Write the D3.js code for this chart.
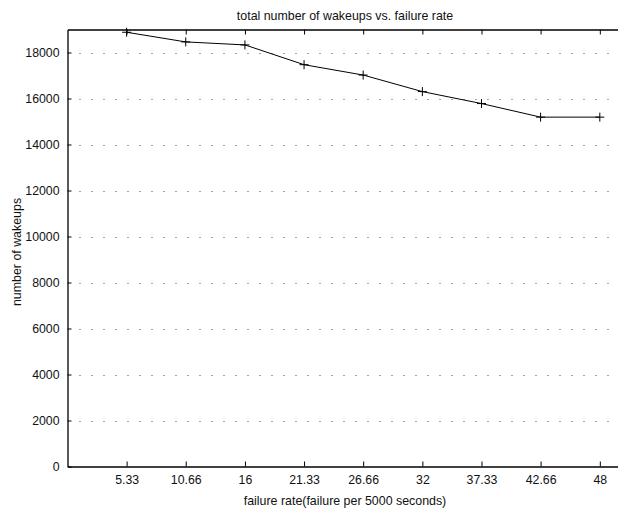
<!DOCTYPE html>
<html>
<head>
  <meta charset="utf-8">
  <script src="https://d3js.org/d3.v7.min.js"></script>
  <style>
    body { margin: 0; background: #fff; }
    svg text { font-family: "Liberation Sans", Arial, sans-serif; fill: #111; }
    .grid line { stroke: #444; stroke-dasharray: 1 11; }
  </style>
</head>
<body>
<script>
  // failure rate (failures per 5000 s) and total wakeups
  var failureRate = [5.33, 10.66, 16, 21.33, 26.66, 32, 37.33, 42.66, 48];
  var wakeups = [18880, 18460, 18330, 17470, 17020, 16300, 15780, 15190, 15190];
  var xTickLabels = ["5.33", "10.66", "16", "21.33", "26.66", "32", "37.33", "42.66", "48"];
  var yTicks = [0, 2000, 4000, 6000, 8000, 10000, 12000, 14000, 16000, 18000];

  var width = 618, height = 510;
  var plotLeft = 67.5, plotRight = 622, plotTop = 29.5, plotBottom = 466.5;

  var svg = d3.select("body").append("svg")
    .attr("width", width)
    .attr("height", height);

  var x = d3.scaleLinear().domain([0, 50]).range([plotLeft, plotRight]);
  var y = d3.scaleLinear().domain([0, 19000]).range([plotBottom, plotTop]);

  // dotted horizontal grid
  svg.append("g").attr("class", "grid")
    .selectAll("line")
    .data(yTicks.filter(function(d) { return d > 0; }))
    .enter().append("line")
      .attr("x1", plotLeft + 12)
      .attr("x2", plotRight)
      .attr("y1", function(d) { return Math.round(y(d)) + 0.5; })
      .attr("y2", function(d) { return Math.round(y(d)) + 0.5; });

  // axes, ticks pointing inwards like gnuplot
  svg.append("g")
    .attr("transform", "translate(0," + plotBottom + ")")
    .call(d3.axisBottom(x).tickValues(failureRate).tickSizeInner(-5).tickSizeOuter(0)
      .tickPadding(9)
      .tickFormat(function(d, i) { return xTickLabels[i]; }));

  svg.append("g")
    .attr("transform", "translate(0," + plotTop + ")")
    .call(d3.axisTop(x).tickValues(failureRate).tickSizeInner(-5).tickSizeOuter(0)
      .tickFormat(""));

  svg.append("g")
    .attr("transform", "translate(" + plotLeft + ",0)")
    .call(d3.axisLeft(y).tickValues(yTicks).tickSizeInner(-4).tickSizeOuter(0)
      .tickPadding(8)
      .tickFormat(d3.format("d")));

  svg.selectAll(".domain").attr("stroke", "#000").attr("stroke-width", 1.3);
  svg.selectAll(".tick line").attr("stroke", "#000");
  svg.selectAll(".tick text").attr("font-size", 12.3).attr("font-family", "Liberation Sans, Arial, sans-serif");

  // data line
  var line = d3.line()
    .x(function(d, i) { return x(failureRate[i]); })
    .y(function(d) { return y(d); });

  svg.append("path")
    .datum(wakeups)
    .attr("fill", "none")
    .attr("stroke", "#000")
    .attr("stroke-width", 1)
    .attr("d", line);

  // "+" markers
  svg.selectAll(".pt")
    .data(wakeups)
    .enter().append("path")
      .attr("class", "pt")
      .attr("transform", function(d, i) { return "translate(" + x(failureRate[i]) + "," + y(d) + ")"; })
      .attr("d", "M-4.5,0H4.5M0,-4.5V4.5")
      .attr("stroke", "#000")
      .attr("stroke-width", 1);

  // titles
  svg.append("text")
    .attr("x", 345).attr("y", 20)
    .attr("text-anchor", "middle")
    .attr("font-size", 12.4)
    .text("total number of wakeups vs. failure rate");

  svg.append("text")
    .attr("x", 345).attr("y", 505)
    .attr("text-anchor", "middle")
    .attr("font-size", 12.4)
    .text("failure rate(failure per 5000 seconds)");

  svg.append("text")
    .attr("transform", "translate(21,252) rotate(-90)")
    .attr("text-anchor", "middle")
    .attr("font-size", 12.4)
    .text("number of wakeups");
</script>
</body>
</html>
